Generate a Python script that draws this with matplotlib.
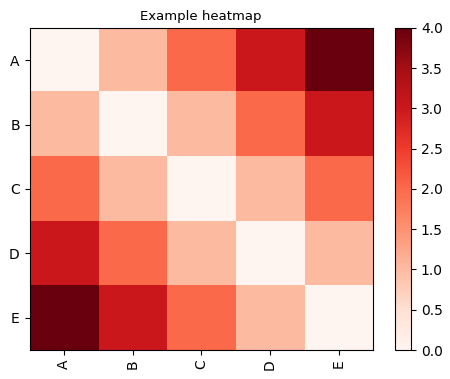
import matplotlib
matplotlib.use("Agg")
import matplotlib.pyplot as plt
import numpy as np

labels = ["A", "B", "C", "D", "E"]
values = [
    [0, 1, 2, 3, 4],
    [1, 0, 1, 2, 3],
    [2, 1, 0, 1, 2],
    [3, 2, 1, 0, 1],
    [4, 3, 2, 1, 0],
]

fig = plt.figure(figsize=(4.5, 3.79), dpi=100)
ax = fig.add_axes([0.0656, 0.0765, 0.763, 0.85])
cax = fig.add_axes([0.878, 0.0765, 0.0356, 0.85])
im = ax.imshow(np.array(values), cmap="Reds", aspect="auto", vmin=0, vmax=4)
ax.set_xticks(range(len(labels)))
ax.set_xticklabels(labels, rotation=90)
ax.set_yticks(range(len(labels)))
ax.set_yticklabels(labels)
ax.set_title("Example heatmap", fontsize=9.5)
fig.colorbar(im, cax=cax)
fig.savefig("out.png", dpi=100)
